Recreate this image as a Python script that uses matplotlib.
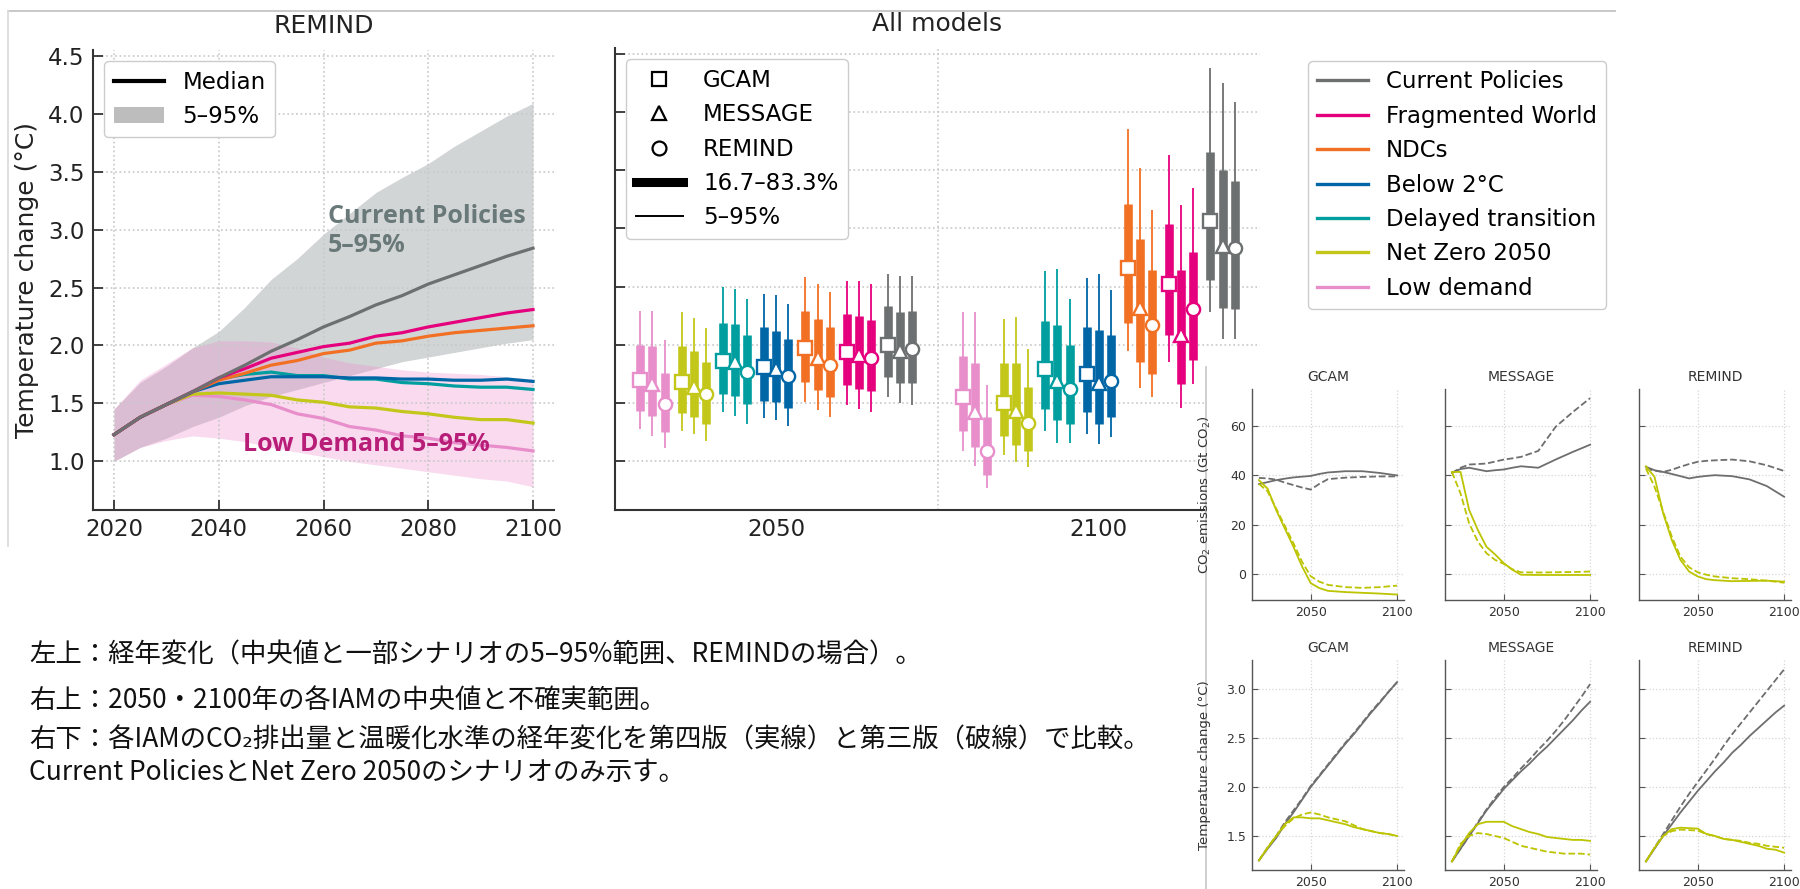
import matplotlib
matplotlib.use("Agg")
import matplotlib.pyplot as plt
from matplotlib.lines import Line2D
from matplotlib.patches import Patch, Rectangle

plt.rcParams['font.family'] = ['DejaVu Sans']

W, H = 1800, 889

# ---- scenarios / models ----
scenarios = ["Current Policies", "Fragmented World", "NDCs", "Below 2°C",
             "Delayed transition", "Net Zero 2050", "Low demand"]
colors = {
    "Current Policies": "#6d7070",
    "Fragmented World": "#e5007d",
    "NDCs": "#f27024",
    "Below 2°C": "#0066a6",
    "Delayed transition": "#009e9f",
    "Net Zero 2050": "#c3c71a",
    "Low demand": "#e88fcb",
}
models = ["GCAM", "MESSAGE", "REMIND"]
model_markers = ["s", "^", "o"]

# ---- left panel: REMIND medians ----
years = list(range(2020, 2101, 5))
remind_median = {
    "Current Policies":   [1.23, 1.38, 1.49, 1.60, 1.72, 1.83, 1.95, 2.05, 2.16, 2.25, 2.35, 2.43, 2.53, 2.61, 2.69, 2.77, 2.84],
    "Fragmented World":   [1.23, 1.38, 1.49, 1.60, 1.72, 1.80, 1.89, 1.94, 1.99, 2.02, 2.08, 2.11, 2.16, 2.20, 2.24, 2.28, 2.31],
    "NDCs":               [1.23, 1.38, 1.49, 1.60, 1.70, 1.76, 1.83, 1.87, 1.93, 1.96, 2.02, 2.04, 2.08, 2.11, 2.13, 2.15, 2.17],
    "Below 2°C":          [1.23, 1.38, 1.49, 1.60, 1.67, 1.70, 1.73, 1.73, 1.73, 1.72, 1.72, 1.71, 1.71, 1.70, 1.70, 1.71, 1.69],
    "Delayed transition": [1.23, 1.38, 1.49, 1.60, 1.71, 1.75, 1.77, 1.74, 1.74, 1.71, 1.71, 1.68, 1.67, 1.65, 1.64, 1.64, 1.62],
    "Net Zero 2050":      [1.23, 1.38, 1.49, 1.58, 1.59, 1.58, 1.57, 1.53, 1.51, 1.47, 1.46, 1.43, 1.41, 1.38, 1.36, 1.36, 1.33],
    "Low demand":         [1.23, 1.38, 1.49, 1.57, 1.56, 1.53, 1.49, 1.41, 1.37, 1.30, 1.27, 1.22, 1.20, 1.16, 1.14, 1.12, 1.09],
}
cp_low = [1.00, 1.12, 1.20, 1.30, 1.38, 1.48, 1.56, 1.62, 1.68, 1.74, 1.80, 1.86, 1.90, 1.94, 1.98, 2.02, 2.05]
cp_high = [1.45, 1.68, 1.82, 1.98, 2.12, 2.33, 2.57, 2.75, 2.96, 3.14, 3.32, 3.45, 3.57, 3.72, 3.85, 3.98, 4.09]
ld_low = [1.00, 1.12, 1.18, 1.22, 1.20, 1.17, 1.12, 1.08, 1.04, 1.00, 0.97, 0.94, 0.91, 0.88, 0.85, 0.83, 0.78]
ld_high = [1.45, 1.70, 1.84, 1.98, 2.04, 2.04, 2.03, 1.98, 1.90, 1.85, 1.82, 1.79, 1.77, 1.76, 1.75, 1.73, 1.71]

# ---- middle panel: all models, [GCAM, MESSAGE, REMIND] ----
bar_years = ["2050", "2100"]
p05_2050 = {"Low demand": [1.28, 1.22, 1.11], "Net Zero 2050": [1.26, 1.23, 1.17], "Delayed transition": [1.42, 1.39, 1.32],
            "Below 2°C": [1.37, 1.35, 1.30], "NDCs": [1.51, 1.44, 1.38], "Fragmented World": [1.48, 1.45, 1.42],
            "Current Policies": [1.55, 1.50, 1.48]}
p17_2050 = {"Low demand": [1.43, 1.39, 1.25], "Net Zero 2050": [1.41, 1.38, 1.32], "Delayed transition": [1.58, 1.56, 1.49],
            "Below 2°C": [1.52, 1.51, 1.46], "NDCs": [1.68, 1.61, 1.55], "Fragmented World": [1.65, 1.62, 1.60],
            "Current Policies": [1.72, 1.67, 1.67]}
med_2050 = {"Low demand": [1.70, 1.66, 1.49], "Net Zero 2050": [1.68, 1.64, 1.58], "Delayed transition": [1.86, 1.85, 1.77],
            "Below 2°C": [1.81, 1.79, 1.73], "NDCs": [1.97, 1.89, 1.83], "Fragmented World": [1.94, 1.91, 1.89],
            "Current Policies": [2.00, 1.95, 1.96]}
p83_2050 = {"Low demand": [2.00, 1.99, 1.76], "Net Zero 2050": [1.99, 1.95, 1.85], "Delayed transition": [2.19, 2.18, 2.08],
            "Below 2°C": [2.15, 2.12, 2.05], "NDCs": [2.29, 2.22, 2.15], "Fragmented World": [2.26, 2.25, 2.21],
            "Current Policies": [2.33, 2.28, 2.29]}
p95_2050 = {"Low demand": [2.29, 2.29, 2.04], "Net Zero 2050": [2.28, 2.23, 2.14], "Delayed transition": [2.50, 2.48, 2.39],
            "Below 2°C": [2.44, 2.43, 2.35], "NDCs": [2.58, 2.52, 2.45], "Fragmented World": [2.55, 2.55, 2.52],
            "Current Policies": [2.61, 2.59, 2.59]}

p05_2100 = {"Low demand": [1.09, 0.96, 0.77], "Net Zero 2050": [1.05, 0.99, 0.95], "Delayed transition": [1.26, 1.16, 1.16],
            "Below 2°C": [1.23, 1.15, 1.21], "NDCs": [1.95, 1.63, 1.55], "Fragmented World": [1.85, 1.46, 1.66],
            "Current Policies": [2.28, 2.05, 2.05]}
p17_2100 = {"Low demand": [1.26, 1.12, 0.88], "Net Zero 2050": [1.22, 1.14, 1.09], "Delayed transition": [1.45, 1.35, 1.32],
            "Below 2°C": [1.42, 1.32, 1.38], "NDCs": [2.19, 1.85, 1.75], "Fragmented World": [2.08, 1.66, 1.87],
            "Current Policies": [2.56, 2.32, 2.31]}
med_2100 = {"Low demand": [1.55, 1.42, 1.09], "Net Zero 2050": [1.50, 1.43, 1.33], "Delayed transition": [1.79, 1.69, 1.62],
            "Below 2°C": [1.75, 1.67, 1.69], "NDCs": [2.66, 2.32, 2.17], "Fragmented World": [2.52, 2.08, 2.31],
            "Current Policies": [3.06, 2.85, 2.83]}
p83_2100 = {"Low demand": [1.90, 1.84, 1.38], "Net Zero 2050": [1.84, 1.84, 1.64], "Delayed transition": [2.20, 2.17, 2.00],
            "Below 2°C": [2.15, 2.13, 2.08], "NDCs": [3.21, 2.91, 2.64], "Fragmented World": [3.04, 2.64, 2.80],
            "Current Policies": [3.66, 3.50, 3.41]}
p95_2100 = {"Low demand": [2.28, 2.28, 1.65], "Net Zero 2050": [2.22, 2.24, 1.96], "Delayed transition": [2.63, 2.65, 2.39],
            "Below 2°C": [2.57, 2.61, 2.47], "NDCs": [3.85, 3.52, 3.16], "Fragmented World": [3.63, 3.20, 3.35],
            "Current Policies": [4.38, 4.25, 4.09]}

# ---- inset: v4 (solid) vs v3 (dashed) ----
co2_years = [2020, 2025, 2030, 2035, 2040, 2045, 2050, 2055, 2060, 2070, 2080, 2090, 2100]
co2_cp_v4 = {"GCAM": [36.4, 37.2, 38.0, 38.6, 39.1, 39.4, 39.7, 40.5, 41.1, 41.6, 41.6, 40.9, 39.9],
             "MESSAGE": [40.9, 42.5, 43.0, 42.3, 41.6, 42.0, 42.3, 43.0, 43.6, 43.0, 46.3, 49.4, 52.3],
             "REMIND": [43.4, 42.0, 41.3, 40.5, 39.6, 38.7, 39.3, 39.7, 40.0, 39.6, 38.3, 35.6, 31.3]}
co2_cp_v3 = {"GCAM": [38.9, 38.7, 38.2, 37.0, 36.0, 35.0, 34.2, 36.5, 38.4, 39.0, 39.3, 39.5, 39.5],
             "MESSAGE": [40.9, 43.0, 44.3, 44.5, 44.7, 45.5, 46.3, 46.8, 47.4, 49.8, 59.5, 65.5, 71.1],
             "REMIND": [42.7, 41.8, 41.3, 42.2, 43.4, 44.5, 45.4, 45.8, 46.0, 46.3, 45.6, 44.0, 41.7]}
co2_nz_v4 = {"GCAM": [38.0, 34.6, 25.9, 18.5, 11.1, 3.1, -3.6, -5.6, -6.7, -7.2, -7.5, -7.8, -8.2],
             "MESSAGE": [41.3, 41.3, 25.9, 17.9, 11.1, 8.0, 4.5, 1.8, -0.2, -0.3, -0.3, -0.3, -0.3],
             "REMIND": [43.6, 39.3, 24.6, 13.8, 5.8, 1.1, -0.9, -2.0, -2.4, -2.8, -2.7, -2.6, -3.0]}
co2_nz_v3 = {"GCAM": [36.5, 33.5, 26.5, 19.5, 12.5, 5.0, -0.8, -3.0, -4.3, -5.2, -5.5, -5.2, -4.6],
             "MESSAGE": [41.3, 32.6, 20.5, 13.2, 8.5, 5.8, 4.2, 2.0, 0.8, 0.7, 0.8, 0.9, 1.1],
             "REMIND": [42.7, 35.3, 25.2, 15.2, 7.1, 2.8, 0.8, -0.2, -0.9, -1.6, -2.0, -2.6, -3.4]}

tmp_cp_v4 = {"GCAM": [1.25, 1.37, 1.48, 1.62, 1.74, 1.87, 2.00, 2.11, 2.22, 2.33, 2.44, 2.54, 2.65, 2.76, 2.86, 2.97, 3.07],
             "MESSAGE": [1.24, 1.37, 1.50, 1.63, 1.76, 1.87, 1.98, 2.07, 2.16, 2.24, 2.33, 2.41, 2.50, 2.59, 2.68, 2.78, 2.87],
             "REMIND": [1.24, 1.37, 1.50, 1.62, 1.74, 1.85, 1.96, 2.06, 2.16, 2.25, 2.35, 2.43, 2.52, 2.60, 2.68, 2.76, 2.83]}
tmp_cp_v3 = {"GCAM": [1.25, 1.38, 1.50, 1.64, 1.76, 1.88, 2.01, 2.12, 2.23, 2.34, 2.45, 2.55, 2.66, 2.77, 2.87, 2.97, 3.07],
             "MESSAGE": [1.24, 1.37, 1.50, 1.64, 1.77, 1.89, 2.00, 2.09, 2.19, 2.28, 2.38, 2.47, 2.57, 2.68, 2.80, 2.92, 3.05],
             "REMIND": [1.24, 1.38, 1.52, 1.66, 1.80, 1.93, 2.05, 2.17, 2.29, 2.42, 2.54, 2.65, 2.76, 2.87, 2.98, 3.09, 3.20]}
tmp_nz_v4 = {"GCAM": [1.25, 1.38, 1.50, 1.62, 1.69, 1.69, 1.68, 1.68, 1.66, 1.64, 1.62, 1.59, 1.57, 1.55, 1.53, 1.52, 1.50],
             "MESSAGE": [1.24, 1.40, 1.53, 1.62, 1.645, 1.645, 1.645, 1.60, 1.57, 1.54, 1.52, 1.49, 1.48, 1.47, 1.46, 1.46, 1.45],
             "REMIND": [1.24, 1.38, 1.50, 1.57, 1.585, 1.58, 1.575, 1.52, 1.50, 1.47, 1.46, 1.44, 1.42, 1.40, 1.37, 1.36, 1.33]}
tmp_nz_v3 = {"GCAM": [1.25, 1.38, 1.50, 1.60, 1.68, 1.72, 1.74, 1.72, 1.69, 1.67, 1.65, 1.61, 1.57, 1.55, 1.53, 1.52, 1.50],
             "MESSAGE": [1.24, 1.42, 1.50, 1.53, 1.52, 1.50, 1.48, 1.44, 1.40, 1.38, 1.36, 1.34, 1.33, 1.32, 1.32, 1.32, 1.31],
             "REMIND": [1.24, 1.38, 1.50, 1.55, 1.565, 1.56, 1.555, 1.52, 1.50, 1.47, 1.46, 1.45, 1.43, 1.42, 1.40, 1.39, 1.38]}

caption = [
    "左上：経年変化（中央値と一部シナリオの5–95%範囲、REMINDの場合）。",
    "右上：2050・2100年の各IAMの中央値と不確実範囲。",
    "右下：各IAMのCO\u2082排出量と温暖化水準の経年変化を第四版（実線）と第三版（破線）で比較。",
    "Current PoliciesとNet Zero 2050のシナリオのみ示す。",
]


def px_axes(fig, left, top, right, bottom):
    return fig.add_axes([left / W, 1 - bottom / H, (right - left) / W, (bottom - top) / H])


def style_main(ax):
    for s in ["top", "right"]:
        ax.spines[s].set_visible(False)
    for s in ["left", "bottom"]:
        ax.spines[s].set_color("#333333")
        ax.spines[s].set_linewidth(1.5)
    ax.tick_params(direction="in", length=7, width=1.3, color="#333333",
                   labelsize=16.5, labelcolor="#222222", pad=6)
    ax.grid(True, linestyle=":", color="#c8c8c8", linewidth=1.2)


fig = plt.figure(figsize=(W / 100, H / 100), dpi=100)

# ---------------- left panel ----------------
ax1 = px_axes(fig, 93, 50, 554, 510)
style_main(ax1)
ax1.fill_between(years, cp_low, cp_high, color="#8f9696", alpha=0.4, linewidth=0)
ax1.fill_between(years, ld_low, ld_high, color="#ee8fcf", alpha=0.33, linewidth=0)
for sc in scenarios[::-1]:
    ax1.plot(years, remind_median[sc], color=colors[sc], lw=2.3)
ax1.set_xlim(2016, 2104)
ax1.set_ylim(0.58, 4.55)
ax1.set_xticks([2020, 2040, 2060, 2080, 2100])
ax1.set_yticks([1.0, 1.5, 2.0, 2.5, 3.0, 3.5, 4.0, 4.5])
ax1.set_ylabel("Temperature change (°C)", fontsize=18, color="#222222")
ax1.yaxis.set_label_coords(-0.118, 0.5)
ax1.set_title("REMIND", fontsize=18, color="#222222", pad=12)
ax1.text(2060.8, 2.99, "Current Policies\n5–95%", family="Open Sans", fontweight="bold",
         fontsize=18, color="#697878", va="center", ha="left", linespacing=1.22)
ax1.text(2044.7, 1.145, "Low Demand 5–95%", family="Open Sans", fontweight="bold",
         fontsize=18, color="#b81d78", va="center", ha="left")
ax1.legend(handles=[Line2D([], [], color="black", lw=3),
                    Patch(facecolor="#bdbdbd", edgecolor="none")],
           labels=["Median", "5–95%"], loc="upper left", fontsize=16.5,
           handlelength=2.2, framealpha=1, edgecolor="#cccccc")

# ---------------- middle panel ----------------
ax2 = px_axes(fig, 615, 48, 1260, 510)
style_main(ax2)
ax2.grid(False, axis="x")
ax2.axvline(0.5, linestyle=":", color="#c8c8c8", lw=1.2)
group_step, model_step = 0.128, 0.0375
bar_sets = [(p05_2050, p17_2050, med_2050, p83_2050, p95_2050),
            (p05_2100, p17_2100, med_2100, p83_2100, p95_2100)]
bar_order = scenarios[::-1]
for j, (p05, p17, med, p83, p95) in enumerate(bar_sets):
    for g, sc in enumerate(bar_order):
        c = colors[sc]
        for m in range(3):
            x = j + (g - 3) * group_step + (m - 1) * model_step
            ax2.plot([x, x], [p05[sc][m], p95[sc][m]], color=c, lw=1.3, solid_capstyle="butt")
            ax2.plot([x, x], [p17[sc][m], p83[sc][m]], color=c, lw=6.2, solid_capstyle="butt")
            ax2.plot(x, med[sc][m], marker=model_markers[m], ms=9.5, mfc="white",
                     mec=c, mew=1.7, linestyle="none")
ax2.set_xlim(-0.5, 1.5)
ax2.set_ylim(0.58, 4.55)
ax2.set_xticks([0, 1])
ax2.set_xticklabels(bar_years)
ax2.tick_params(axis="x", length=0)
ax2.set_yticks([1.0, 1.5, 2.0, 2.5, 3.0, 3.5, 4.0, 4.5])
ax2.tick_params(labelleft=False)
ax2.set_title("All models", fontsize=18, color="#222222", pad=12)
mid_handles = [Line2D([], [], marker=mk, color="black", mfc="none", ms=10, mew=1.6, linestyle="none")
               for mk in model_markers]
mid_handles += [Line2D([], [], color="black", lw=6.5), Line2D([], [], color="black", lw=1.4)]
ax2.legend(handles=mid_handles, labels=models + ["16.7–83.3%", "5–95%"], loc="upper left",
           fontsize=16.5, handlelength=2.05, handletextpad=0.9, framealpha=1, edgecolor="#cccccc")

# scenario legend
fig.legend(handles=[Line2D([], [], color=colors[sc], lw=2.4) for sc in scenarios],
           labels=scenarios, loc="upper left", bbox_to_anchor=(1308 / W, 1 - 61 / H),
           borderaxespad=0, fontsize=16.5, handlelength=2.2, framealpha=1, edgecolor="#cccccc")

# image frame lines
fig.add_artist(Line2D([8 / W, 1615 / W], [1 - 10.5 / H, 1 - 10.5 / H], transform=fig.transFigure,
                      color="#c4c4c4", lw=1.3))
fig.add_artist(Line2D([8 / W, 8 / W], [1 - 10.5 / H, 1 - 546 / H], transform=fig.transFigure,
                      color="#dcdcdc", lw=1.3))

# ---------------- inset ----------------
fig.add_artist(Rectangle((1205.5 / W, 0), 1 - 1205.5 / W, 1 - 367 / H, transform=fig.transFigure,
                         facecolor="white", edgecolor="none", zorder=1))
fig.add_artist(Line2D([1205.5 / W, 1205.5 / W], [1 - 367 / H, 0], transform=fig.transFigure,
                      color="#cccccc", lw=1.3, zorder=1.5))

inset_left = {"GCAM": 1252, "MESSAGE": 1445, "REMIND": 1639}
gray_line, nz_line = "#6e6e6e", "#bcc400"
for row, (top, bottom) in enumerate([(389, 600), (660, 870)]):
    for k, mod in enumerate(models):
        ax = px_axes(fig, inset_left[mod], top, inset_left[mod] + 152, bottom)
        ax.set_zorder(2)
        for s in ["top", "right"]:
            ax.spines[s].set_visible(False)
        for s in ["left", "bottom"]:
            ax.spines[s].set_color("#555555")
            ax.spines[s].set_linewidth(1.0)
        ax.tick_params(direction="in", length=4, color="#555555", labelsize=9,
                       labelcolor="#333333", pad=4)
        ax.grid(True, linestyle=":", color="#d6d6d6", linewidth=0.9)
        if row == 0:
            ax.plot(co2_years, co2_cp_v4[mod], color=gray_line, lw=1.3)
            ax.plot(co2_years, co2_cp_v3[mod], color=gray_line, lw=1.3, ls="--")
            ax.plot(co2_years, co2_nz_v4[mod], color=nz_line, lw=1.3)
            ax.plot(co2_years, co2_nz_v3[mod], color=nz_line, lw=1.3, ls="--")
            ax.set_ylim(-10.4, 74.8)
            ax.set_yticks([0, 20, 40, 60])
            if k == 0:
                ax.set_ylabel("CO$_2$ emissions (Gt CO$_2$)", fontsize=9.6, color="#333333")
                ax.yaxis.set_label_coords(-0.255, 0.5)
        else:
            ax.plot(years, tmp_cp_v4[mod], color=gray_line, lw=1.3)
            ax.plot(years, tmp_cp_v3[mod], color=gray_line, lw=1.3, ls="--")
            ax.plot(years, tmp_nz_v4[mod], color=nz_line, lw=1.3)
            ax.plot(years, tmp_nz_v3[mod], color=nz_line, lw=1.3, ls="--")
            ax.set_ylim(1.153, 3.296)
            ax.set_yticks([1.5, 2.0, 2.5, 3.0])
            if k == 0:
                ax.set_ylabel("Temperature change (°C)", fontsize=9.6, color="#333333")
                ax.yaxis.set_label_coords(-0.27, 0.5)
        if k > 0:
            ax.tick_params(labelleft=False)
        ax.set_xlim(2016, 2104)
        ax.set_xticks([2050, 2100])
        ax.set_title(mod, fontsize=10, color="#333333", pad=6)

# ---------------- caption ----------------
for txt, yc in zip(caption, [655, 700, 740, 773]):
    fig.text(29 / W, 1 - yc / H, txt, family=["Noto Sans CJK JP", "DejaVu Sans"],
             fontsize=19, color="#111111", va="center", ha="left")

fig.savefig("out.png", dpi=100, facecolor="white")
